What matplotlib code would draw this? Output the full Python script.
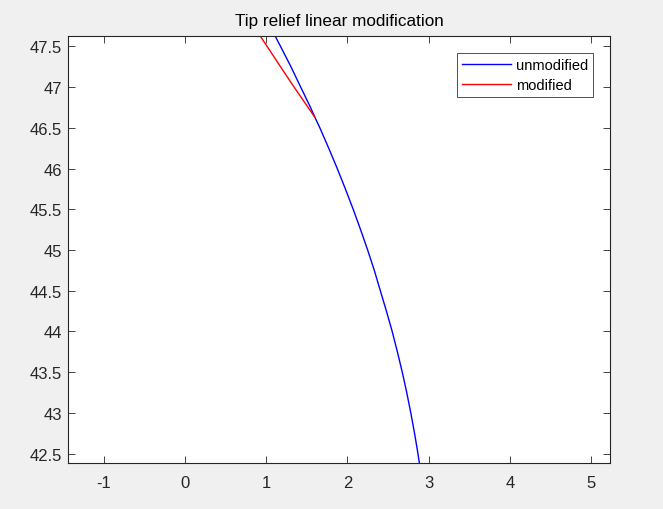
import matplotlib
matplotlib.use("Agg")
import matplotlib.pyplot as plt

# points (estimated along the curve)
unmod_y = [47.63, 47.5, 47.25, 47.0, 46.75, 46.627, 46.5, 46.25, 46.0, 45.75, 45.5,
           45.25, 45.0, 44.75, 44.5, 44.25, 44.0, 43.75, 43.5, 43.25, 43.0, 42.75,
           42.5, 42.386]
unmod_x = [1.109, 1.177, 1.305, 1.425, 1.546, 1.601, 1.661, 1.770, 1.875, 1.975, 2.071,
           2.162, 2.249, 2.331, 2.405, 2.480, 2.551, 2.615, 2.675, 2.730, 2.780, 2.826,
           2.868, 2.885]
mod_x = [0.925, 1.319, 1.601]
mod_y = [47.63, 47.036, 46.627]

xticks = [-1, 0, 1, 2, 3, 4, 5]
yticks = [42.5, 43, 43.5, 44, 44.5, 45, 45.5, 46, 46.5, 47, 47.5]
ytick_labels = ["42.5", "43", "43.5", "44", "44.5", "45", "45.5", "46", "46.5", "47", "47.5"]

plt.rcParams["font.family"] = ["Liberation Sans", "DejaVu Sans"]
dark = "#262626"

fig = plt.figure(figsize=(6.63, 5.10), dpi=100, facecolor="#f0f0f0")
ax = fig.add_axes([68.3 / 663, 46 / 510, (610 - 68.3) / 663, (464 - 36.7) / 510])
ax.set_facecolor("white")

ax.plot(unmod_x, unmod_y, color="blue", lw=1, label="unmodified")
ax.plot(mod_x, mod_y, color="red", lw=1, label="modified")

ax.set_xlim(-1.433, 5.230)
ax.set_ylim(42.386, 47.63)
ax.set_xticks(xticks)
ax.set_xticklabels([str(t) for t in xticks])
ax.set_yticks(yticks)
ax.set_yticklabels(ytick_labels)
ax.tick_params(direction="in", length=5, width=0.6, top=True, right=True,
               labelsize=12, colors=dark)
ax.tick_params(axis="y", pad=4.5)
ax.tick_params(axis="x", pad=9)
for sp in ax.spines.values():
    sp.set_color(dark)
    sp.set_linewidth(0.8)

ax.set_title("Tip relief linear modification", fontsize=12.3, color="black", pad=8)

leg = ax.legend(loc="upper right", bbox_to_anchor=(1 - 16.7 / 541.7, 1 - 17.6 / 427.3),
                borderaxespad=0, fancybox=False, edgecolor="black", fontsize=10.5,
                handlelength=3.35, handletextpad=0.35, borderpad=0.35, labelspacing=0.4)
leg.get_frame().set_linewidth(0.6)

fig.savefig("out.png", dpi=100, facecolor=fig.get_facecolor())
